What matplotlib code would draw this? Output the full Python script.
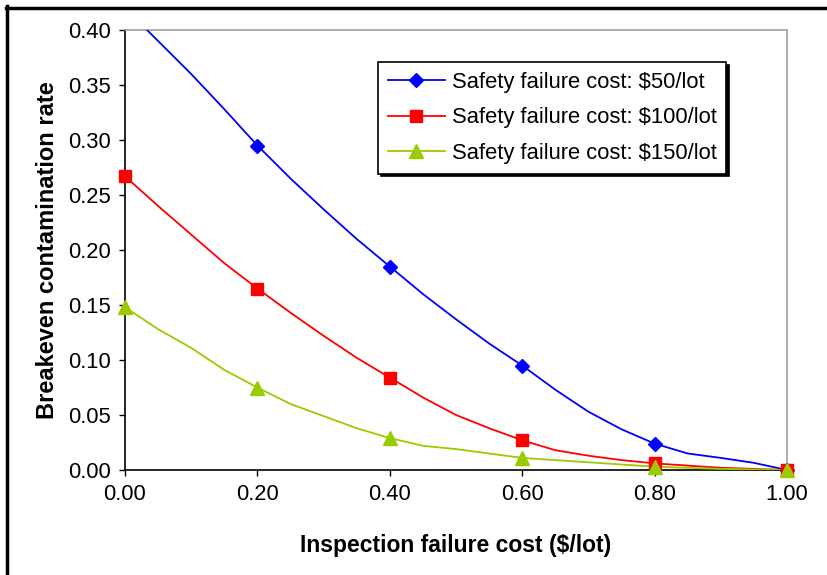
import numpy as np
import matplotlib
matplotlib.use("Agg")
import matplotlib.pyplot as plt
from matplotlib.lines import Line2D
from matplotlib.ticker import FormatStrFormatter

plt.rcParams['font.family'] = ['Liberation Sans', 'DejaVu Sans']

# Data
x_cost = [0.00, 0.05, 0.10, 0.15, 0.20, 0.25, 0.30, 0.35, 0.40, 0.45, 0.50,
          0.55, 0.60, 0.65, 0.70, 0.75, 0.80, 0.85, 0.90, 0.95, 1.00]
rate_50 = [0.420, 0.390, 0.360, 0.328, 0.295, 0.265, 0.237, 0.210, 0.185, 0.160, 0.137,
           0.115, 0.095, 0.073, 0.053, 0.037, 0.024, 0.015, 0.011, 0.0065, 0.000]
rate_100 = [0.267, 0.240, 0.214, 0.188, 0.165, 0.143, 0.122, 0.102, 0.084, 0.066, 0.050,
            0.038, 0.027, 0.018, 0.013, 0.009, 0.006, 0.004, 0.002, 0.001, 0.000]
rate_150 = [0.148, 0.128, 0.111, 0.091, 0.075, 0.060, 0.049, 0.038, 0.029, 0.022, 0.019,
            0.015, 0.011, 0.009, 0.007, 0.005, 0.003, 0.002, 0.001, 0.0005, 0.000]
labels = ["Safety failure cost: $50/lot",
          "Safety failure cost: $100/lot",
          "Safety failure cost: $150/lot"]
colors = ["#0000FF", "#FF0000", "#99CC00"]
markers = ["D", "s", "^"]
msizes = [7.5, 8.8, 9.5]
x_ticks = [0.0, 0.2, 0.4, 0.6, 0.8, 1.0]
y_ticks = [0.0, 0.05, 0.10, 0.15, 0.20, 0.25, 0.30, 0.35, 0.40]

fig = plt.figure(figsize=(8.28, 5.75), dpi=100)
ax = fig.add_axes([125/828, 1 - 470/575, (787-125)/828, (470-30)/575])

xs = np.array(x_cost)
handles = []
for ys, lab, c, m, ms in zip([rate_50, rate_100, rate_150], labels, colors, markers, msizes):
    ys = np.array(ys)
    ax.plot(xs, ys, color=c, lw=1.3, zorder=3)
    mx = xs[::4]
    my = ys[::4]
    keep = my <= 0.4
    ax.plot(mx[keep], my[keep], linestyle='none', marker=m, ms=ms, color=c,
            markeredgecolor=c, clip_on=False, zorder=4)
    handles.append(Line2D([], [], color=c, lw=1.3, marker=m, ms=ms, markeredgecolor=c))

ax.set_xlim(0, 1)
ax.set_ylim(0, 0.4)
ax.set_xticks(x_ticks)
ax.set_yticks(y_ticks)
ax.xaxis.set_major_formatter(FormatStrFormatter('%.2f'))
ax.yaxis.set_major_formatter(FormatStrFormatter('%.2f'))
ax.tick_params(axis='both', direction='out', length=4, width=1, labelsize=15.8, pad=6,
               colors='black')

for s in ['left', 'bottom']:
    ax.spines[s].set_color('black')
    ax.spines[s].set_linewidth(1.2)
for s in ['top', 'right']:
    ax.spines[s].set_color('#A0A0A0')
    ax.spines[s].set_linewidth(1.2)

ax.set_xlabel("Inspection failure cost ($/lot)", fontsize=16.5, fontweight='bold', labelpad=21)
ax.set_ylabel("Breakeven contamination rate", fontsize=17, fontweight='bold', labelpad=6.5)

leg = ax.legend(handles, labels, loc='upper left', bbox_to_anchor=((378-125)/662, (470-62)/440),
                borderaxespad=0, fontsize=15.8, frameon=True, fancybox=False,
                shadow={'color': 'black', 'alpha': 1}, handlelength=2.6,
                handletextpad=0.3, labelspacing=0.66, borderpad=0.45)
leg.get_frame().set_edgecolor('black')
leg.get_frame().set_linewidth(1.2)
leg.set_zorder(10)

# outer frame (left and top edges visible in reference)
fig.add_artist(Line2D([7.5/828, 7.5/828], [0, 1 - 6/575], color='black', lw=2.5,
                      transform=fig.transFigure))
fig.add_artist(Line2D([6/828, 1], [1 - 7.5/575, 1 - 7.5/575], color='black', lw=2.5,
                      transform=fig.transFigure))

fig.savefig("out.png", dpi=100)
